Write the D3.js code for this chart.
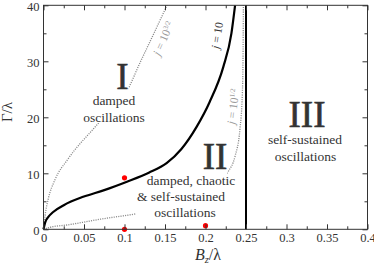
<!DOCTYPE html>
<html>
<head>
<meta charset="utf-8">
<script src="https://cdn.jsdelivr.net/npm/d3@7"></script>
<style>
  body { margin: 0; background: #fff; }
  text { font-family: "Liberation Serif", "DejaVu Serif", serif; fill: #333; }
</style>
</head>
<body>
<div id="chart"></div>
<script>
var w = 374,
    h = 264;

// values
var xTicks = [0, 0.05, 0.1, 0.15, 0.2, 0.25, 0.3, 0.35, 0.4],
    xTickLabels = ["0", "0.05", "0.1", "0.15", "0.2", "0.25", "0.3", "0.35", "0.4"],
    xMinor = [0.025, 0.075, 0.125, 0.175, 0.225, 0.275, 0.325, 0.375],
    yTicks = [0, 10, 20, 30, 40],
    yMinor = [5, 15, 25, 35];

// boundary j = 10 (thick)
var curveJ10 = [[0,0],[0.002,1.2],[0.006,2.2],[0.012,3.1],[0.025,4.3],[0.049,5.8],[0.075,7],
                [0.103,8.5],[0.13,10.1],[0.152,11.8],[0.17,14.3],[0.189,18.3],[0.205,22.7],
                [0.222,29],[0.232,35],[0.2365,40]];
// j = 10^(3/2) (dotted, region I)
var curveJ32 = [[0,0],[0.002,2.5],[0.006,5.5],[0.014,8.8],[0.03,12.5],[0.062,18],[0.085,21.7],
                [0.104,25],[0.119,29.7],[0.137,35.2],[0.1525,40]];
// j = 10^(1/2) (dotted, region II)
var curveJ12 = [[0,0],[0.008,0.36],[0.029,0.77],[0.07,1.8],[0.123,3.0],[0.16,4.3],[0.19,6],
                [0.21,7.8],[0.228,10.3],[0.2364,13],[0.2426,18],[0.2455,24.3],[0.2463,30],[0.2468,40]];
// vertical boundary Bz = 0.25
var boundaryX = 0.25;
// red points
var points = [[0.1, 9.2], [0.1, 0], [0.2, 0.65]];

var svg = d3.select("#chart")
    .append("svg")
    .attr("width", w)
    .attr("height", h);

var x = d3.scaleLinear().domain([0, 0.4]).range([43.5, 367.5]),
    y = d3.scaleLinear().domain([0, 40]).range([229.3, 5.3]);

var line = d3.line()
    .x(function(d) { return x(d[0]); })
    .y(function(d) { return y(d[1]); })
    .curve(d3.curveMonotoneX);

// dotted curves go underneath the text blocks
var dotted = svg.append("g");
[curveJ32, curveJ12].forEach(function(c) {
  dotted.append("path")
      .datum(c)
      .attr("d", line)
      .attr("fill", "none")
      .attr("stroke", "#8a8a8a")
      .attr("stroke-width", 1.3)
      .attr("stroke-dasharray", "1.1,1.2");
});

// text blocks with a white box behind
function block(lines, pad) {
  var g = svg.append("g");
  var bg = g.append("rect").attr("fill", "#fff");
  lines.forEach(function(l) {
    g.append("text")
        .attr("x", l.x).attr("y", l.y)
        .attr("text-anchor", "middle")
        .style("font-size", l.size + "px")
        .style("stroke", l.big ? "#333" : null)
        .style("stroke-width", l.big ? 0.6 : null)
        .text(l.t);
  });
  var b = g.node().getBBox();
  bg.attr("x", b.x - pad).attr("y", b.y + 2).attr("width", b.width + 2 * pad).attr("height", b.height - 4);
}

block([{t: "I", x: 122.5, y: 89, size: 37, big: true}], 0);
block([{t: "damped", x: 114, y: 105, size: 13.5}, {t: "oscillations", x: 114, y: 122, size: 13.5}], 1);
block([{t: "II", x: 215, y: 169, size: 37, big: true}], 0);
block([{t: "damped, chaotic", x: 191, y: 185, size: 13.5},
       {t: "& self-sustained", x: 181, y: 201, size: 13.5},
       {t: "oscillations", x: 185, y: 217, size: 13.5}], 1);
block([{t: "III", x: 307, y: 127, size: 37, big: true}], 0);
block([{t: "self-sustained", x: 305, y: 144, size: 13.5}, {t: "oscillations", x: 305.5, y: 161, size: 13.5}], 1);

// thick boundary curves
svg.append("path")
    .datum(curveJ10)
    .attr("d", line)
    .attr("fill", "none")
    .attr("stroke", "#000")
    .attr("stroke-width", 2.2);

svg.append("line")
    .attr("x1", x(boundaryX)).attr("x2", x(boundaryX))
    .attr("y1", y(0)).attr("y2", y(40))
    .attr("stroke", "#000")
    .attr("stroke-width", 2);

// curve labels
function jLabel(cx, cy, angle, sup, col) {
  var t = svg.append("text")
      .attr("transform", "translate(" + cx + "," + cy + ") rotate(" + angle + ")")
      .attr("text-anchor", "middle")
      .style("font-size", "11.5px")
      .style("fill", col);
  t.append("tspan").style("font-style", "italic").text("j");
  t.append("tspan").text(" = 10");
  if (sup) t.append("tspan").attr("dy", -4).style("font-size", "7px").text(sup);
}
jLabel(167, 40, -66, "3/2", "#9a9a9a");
jLabel(221, 36, -81, null, "#333");
jLabel(237, 107, -83, "1/2", "#9a9a9a");

// red points
svg.append("g").selectAll("circle")
    .data(points)
    .enter()
    .append("circle")
    .attr("cx", function(d) { return x(d[0]); })
    .attr("cy", function(d) { return y(d[1]); })
    .attr("r", 2.6)
    .attr("fill", "#f00");

// frame and ticks (inward on all sides)
svg.append("rect")
    .attr("x", x(0)).attr("y", y(40))
    .attr("width", x(0.4) - x(0)).attr("height", y(0) - y(40))
    .attr("fill", "none").attr("stroke", "#333").attr("stroke-width", 1);

var noLabel = function() { return ""; };
var axes = [
  [d3.axisBottom(x).tickValues(xTicks).tickFormat(function(d, i) { return xTickLabels[i]; }).tickSize(-5).tickPadding(4), "translate(0," + y(0) + ")"],
  [d3.axisBottom(x).tickValues(xMinor).tickFormat(noLabel).tickSize(-3), "translate(0," + y(0) + ")"],
  [d3.axisTop(x).tickValues(xTicks).tickFormat(noLabel).tickSize(-5), "translate(0," + y(40) + ")"],
  [d3.axisTop(x).tickValues(xMinor).tickFormat(noLabel).tickSize(-3), "translate(0," + y(40) + ")"],
  [d3.axisLeft(y).tickValues(yTicks).tickFormat(d3.format("d")).tickSize(-5).tickPadding(4), "translate(" + x(0) + ",0)"],
  [d3.axisLeft(y).tickValues(yMinor).tickFormat(noLabel).tickSize(-3), "translate(" + x(0) + ",0)"],
  [d3.axisRight(y).tickValues(yTicks).tickFormat(noLabel).tickSize(-5), "translate(" + x(0.4) + ",0)"],
  [d3.axisRight(y).tickValues(yMinor).tickFormat(noLabel).tickSize(-3), "translate(" + x(0.4) + ",0)"]
];
axes.forEach(function(a, i) {
  var g = svg.append("g").attr("transform", a[1]).call(a[0]);
  g.select(".domain").remove();
  g.selectAll(".tick line").attr("stroke", "#333");
  g.selectAll(".tick text")
      .style("font-family", "'Liberation Serif', serif")
      .style("font-size", "12.5px")
      .style("fill", "#333");
  if (i === 4) g.selectAll(".tick text").attr("dy", "0.45em");
});

// axis titles
var yt = svg.append("text")
    .attr("transform", "translate(12," + 112 + ") rotate(-90)")
    .attr("text-anchor", "middle")
    .style("font-size", "15px");
yt.append("tspan").text("Γ/λ");

var xt = svg.append("text")
    .attr("x", 208).attr("y", 260)
    .attr("text-anchor", "middle")
    .style("font-size", "16px");
xt.append("tspan").style("font-style", "italic").text("B");
xt.append("tspan").attr("dy", 3).style("font-size", "10.5px").style("font-style", "italic").text("z");
xt.append("tspan").attr("dy", -3).text("/λ");
</script>
</body>
</html>
